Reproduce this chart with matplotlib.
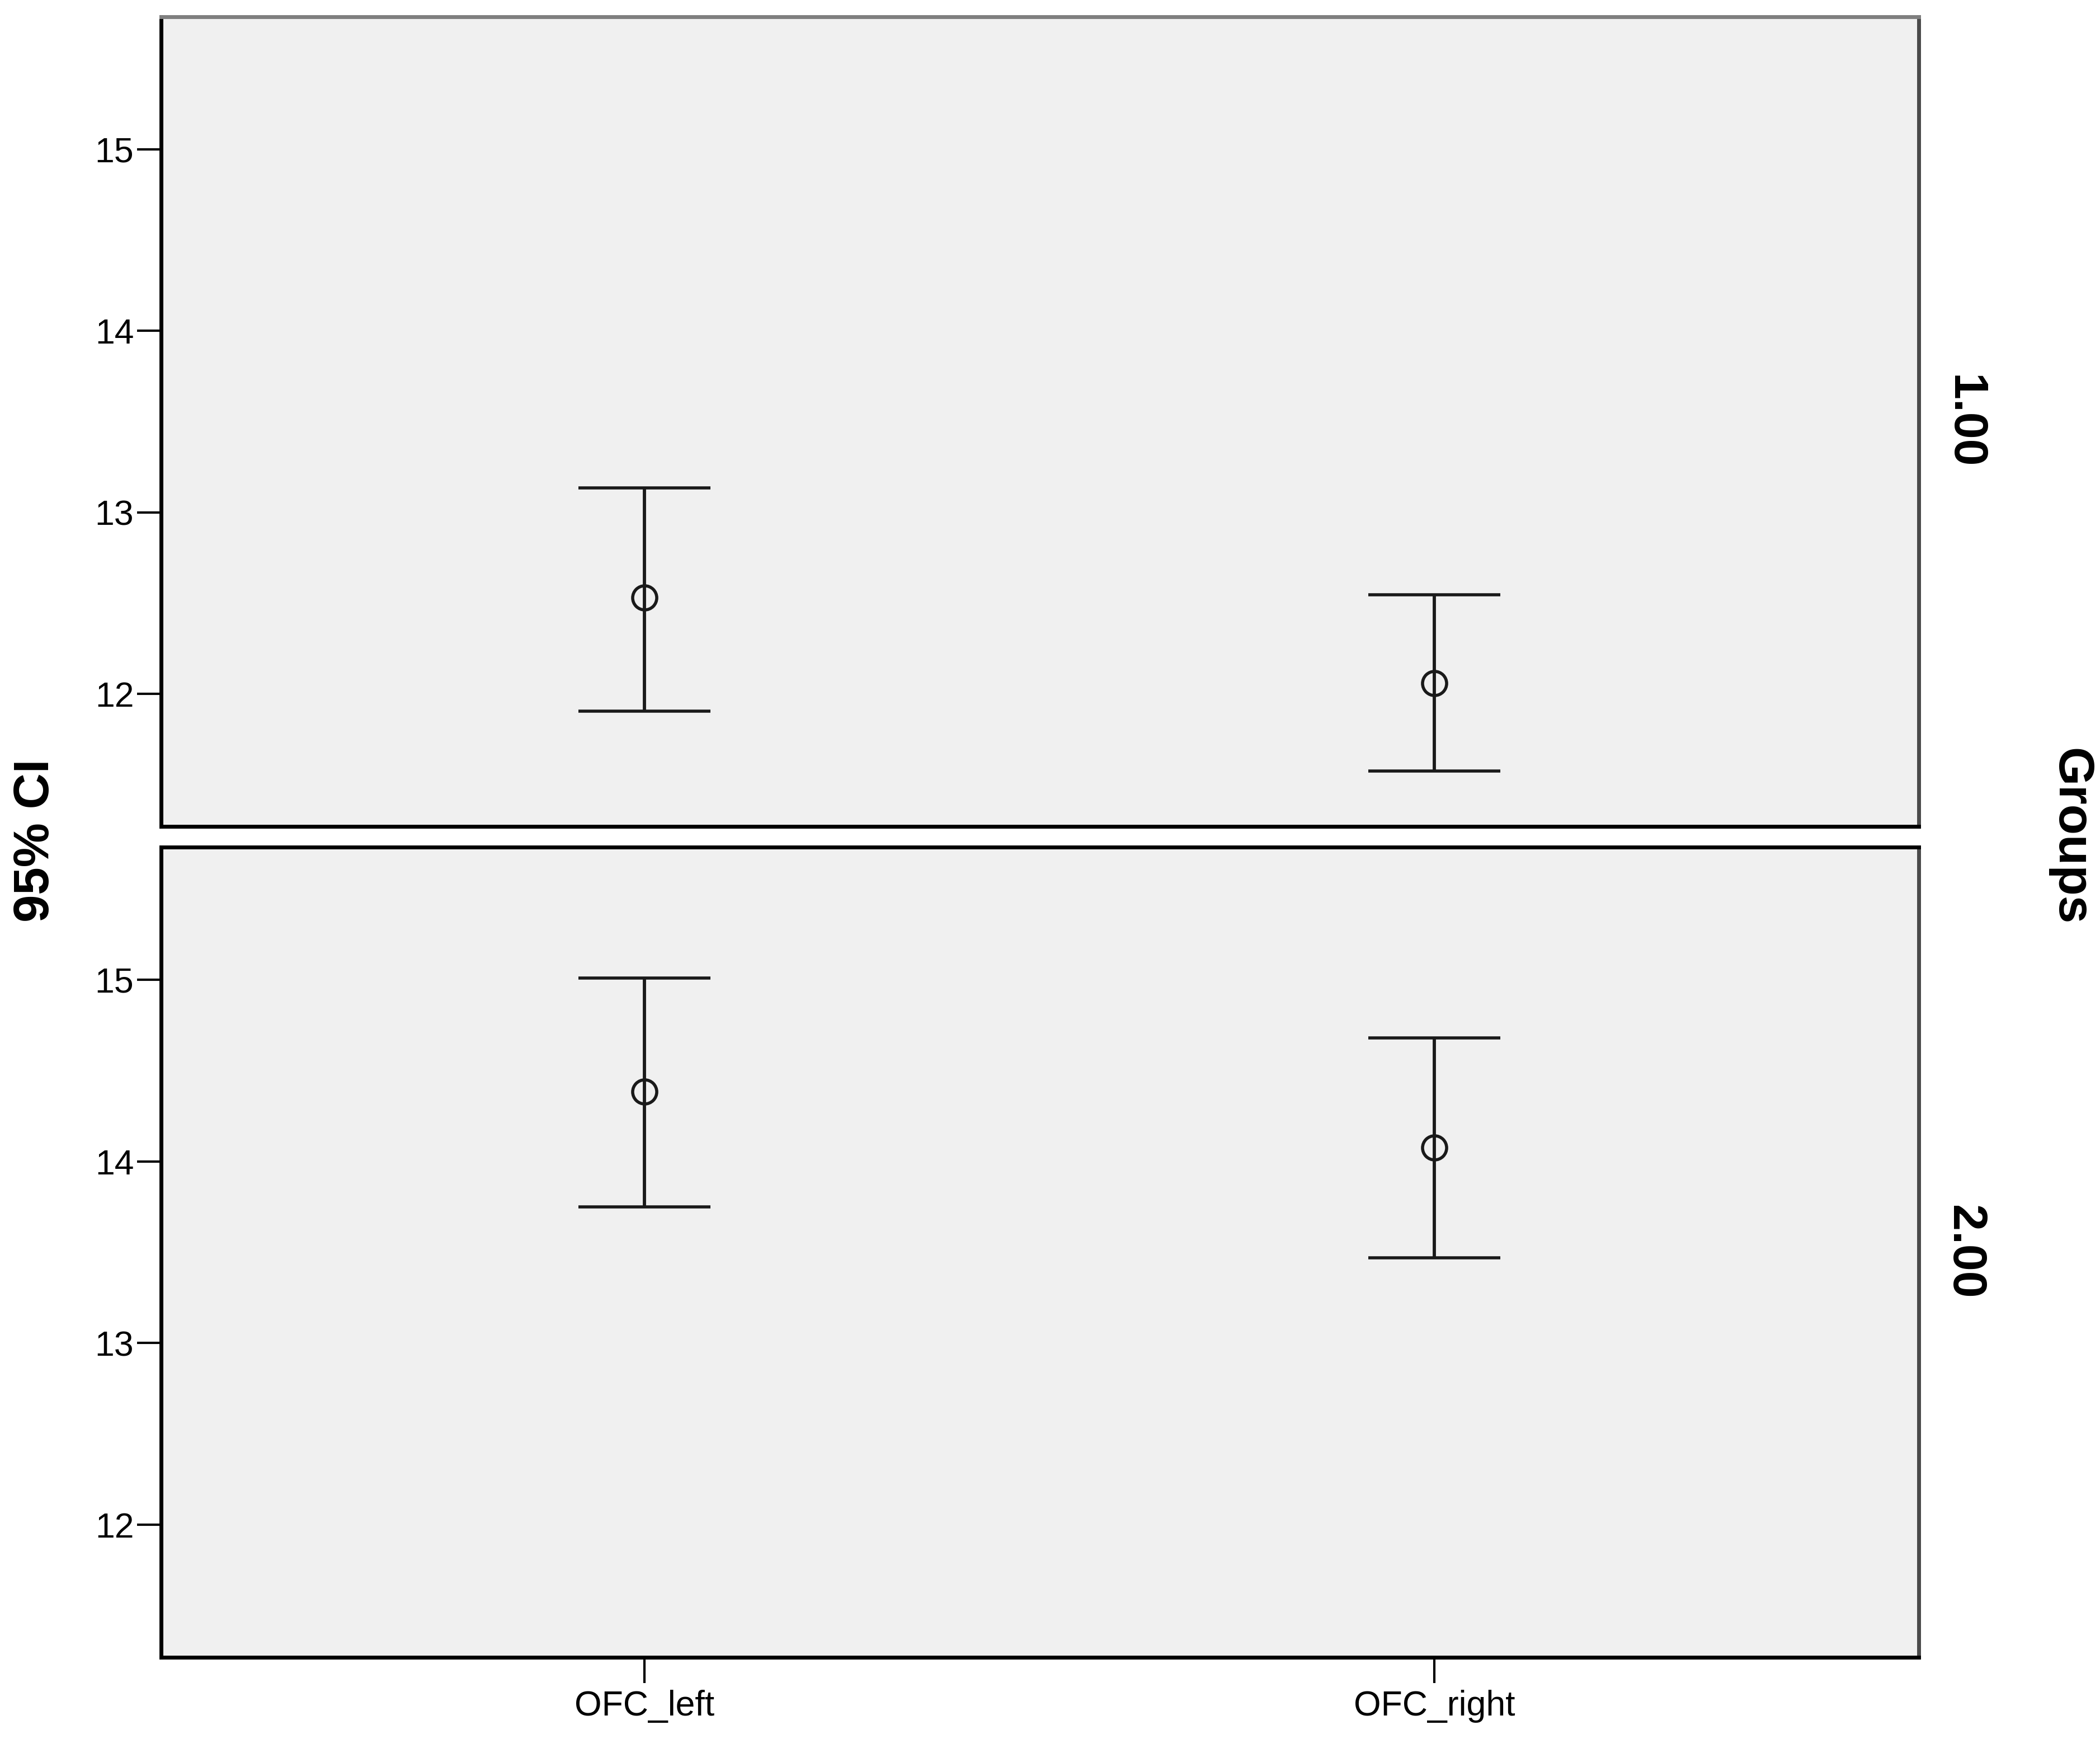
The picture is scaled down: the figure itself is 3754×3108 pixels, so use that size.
import matplotlib
matplotlib.use("Agg")
import matplotlib.pyplot as plt

plt.rcParams['font.family'] = ['Liberation Sans', 'DejaVu Sans']

# data (95% CI per group)
categories = ['OFC_left', 'OFC_right']
groups = ['1.00', '2.00']
means = [[12.53, 12.06], [14.385, 14.075]]
upper = [[13.135, 12.545], [15.01, 14.68]]
lower = [[11.905, 11.575], [13.75, 13.47]]
yticks = [12, 13, 14, 15]

fig = plt.figure(figsize=(37.54, 31.08), dpi=100)
panel_pos = [[0.0767, 0.5248, 0.837, 0.4656],
             [0.0767, 0.04698, 0.837, 0.4659]]

xs = list(range(len(categories)))
for i, grp in enumerate(groups):
    ax = fig.add_axes(panel_pos[i])
    ax.set_facecolor('#f0f0f0')
    m = means[i]
    err = [[m[j] - lower[i][j] for j in xs], [upper[i][j] - m[j] for j in xs]]
    ax.errorbar(xs, m, yerr=err, fmt='o', color='#1a1a1a', ecolor='#1a1a1a',
                elinewidth=4.2, capsize=85, capthick=4.2,
                markersize=31, markerfacecolor='none', markeredgewidth=4)
    ax.set_xlim(-0.612, 1.613)
    ax.set_ylim(11.27, 15.73)
    ax.set_yticks(yticks)
    ax.set_yticklabels([str(t) for t in yticks], fontsize=45)
    ax.tick_params(axis='y', length=31, width=3, direction='out', pad=4)
    if i == len(groups) - 1:
        ax.set_xticks(xs)
        ax.set_xticklabels(categories, fontsize=45)
        ax.tick_params(axis='x', length=33, width=3, direction='out', pad=9)
    else:
        ax.set_xticks([])
    for side, sp in ax.spines.items():
        sp.set_linewidth(5)
        sp.set_color('black')
    ax.spines['right'].set_color('#4a4a4a')
    if i == 0:
        ax.spines['top'].set_color('#7f7f7f')
    ax.text(1.0258, 0.5, grp, transform=ax.transAxes, rotation=270,
            ha='center', va='center', fontsize=62, fontweight='bold')

fig.text(0.017, 0.5167, '95% CI', rotation=90, ha='center', va='center',
         fontsize=64, fontweight='bold')
fig.text(0.9856, 0.519, 'Groups', rotation=270, ha='center', va='center',
         fontsize=64, fontweight='bold')

fig.savefig('out.png', dpi=100, facecolor='white')
